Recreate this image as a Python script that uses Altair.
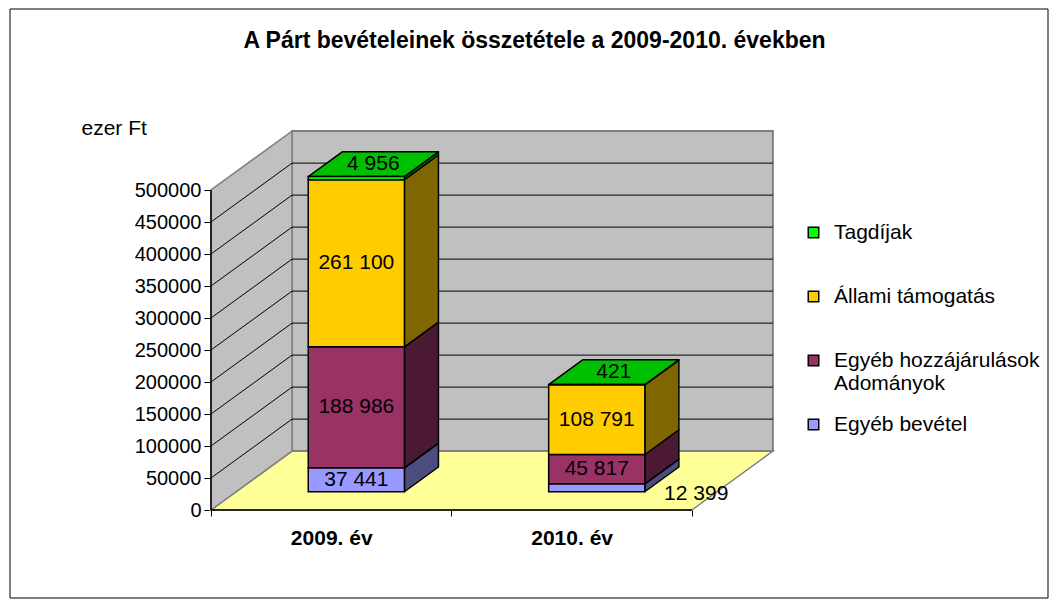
import altair as alt
import pandas as pd

# ---------------- data ----------------
YEARS = ["2009. év", "2010. év"]
SERIES = ["Tagdíjak", "Állami támogatás", "Egyéb hozzájárulások Adományok", "Egyéb bevétel"]
TAGDIJAK = [4956, 421]
ALLAMI_TAMOGATAS = [261100, 108791]
EGYEB_HOZZAJARULASOK = [188986, 45817]
EGYEB_BEVETEL = [37441, 12399]
Y_TICKS = [0, 50000, 100000, 150000, 200000, 250000, 300000, 350000, 400000, 450000, 500000]
TITLE = "A Párt bevételeinek összetétele a 2009-2010. években"
Y_UNIT = "ezer Ft"

# ---------------- style ----------------
COLORS = ["#00FF00", "#FFCC00", "#993366", "#9999FF"]
FONT = "Liberation Sans"
WALL = "#C0C0C0"
FLOOR = "#FFFF99"
EDGE = "#808080"

# pseudo-3D geometry (in scale units)
BAR_HALF = 0.2       # half bar width, in category bands
DEPTH_X = 0.337      # depth vector, x part
DEPTH_Y = 92000      # depth vector, y part
F0, F1 = 0.31, 0.73  # front / back depth of bars
WALL_TOP = Y_TICKS[-1]
X_MAX = len(YEARS) + 0.35
Y_MAX = 600000
PLOT_W, PLOT_H = 565, 384


def shade(hex_color, k):
    h = hex_color.lstrip("#")
    r, g, b = (int(h[i:i + 2], 16) for i in (0, 2, 4))
    return "#%02X%02X%02X" % (int(r * k), int(g * k), int(b * k))


def fmt(v):
    return f"{v:,}".replace(",", " ")


series_values = {
    SERIES[0]: TAGDIJAK,
    SERIES[1]: ALLAMI_TAMOGATAS,
    SERIES[2]: EGYEB_HOZZAJARULASOK,
    SERIES[3]: EGYEB_BEVETEL,
}
color_of = dict(zip(SERIES, COLORS))
stack_order = list(reversed(SERIES))  # bottom -> top

front, side, top, labels = [], [], [], []
for i, year in enumerate(YEARS):
    c = i + 0.5
    base = 0
    for s in stack_order:
        v = series_values[s][i]
        y0, y1 = base, base + v
        base = y1
        fx0, fx1 = c - BAR_HALF + F0 * DEPTH_X, c + BAR_HALF + F0 * DEPTH_X
        bx1 = c + BAR_HALF + F1 * DEPTH_X
        face = f"{i}-{s}"
        front.append(dict(series=s, fx0=fx0, fx1=fx1, fy0=y0 + F0 * DEPTH_Y, fy1=y1 + F0 * DEPTH_Y))
        side += [
            dict(face=face, x=fx1, lo=y0 + F0 * DEPTH_Y, hi=y1 + F0 * DEPTH_Y, shade=shade(color_of[s], 0.5)),
            dict(face=face, x=bx1, lo=y0 + F1 * DEPTH_Y, hi=y1 + F1 * DEPTH_Y, shade=shade(color_of[s], 0.5)),
        ]
        if s == stack_order[-1]:
            d = (F1 - F0) * DEPTH_X
            top += [
                dict(face=face, y=y1 + F0 * DEPTH_Y, xlo=fx0, xhi=fx1, shade=shade(color_of[s], 0.75)),
                dict(face=face, y=y1 + F1 * DEPTH_Y, xlo=fx0 + d, xhi=fx1 + d, shade=shade(color_of[s], 0.75)),
            ]
            labels.append(dict(label=fmt(v), mode="center",
                               lx=c + (F0 + F1) / 2 * DEPTH_X, ly=y1 + (F0 + F1) / 2 * DEPTH_Y))
        elif v < 20000:
            labels.append(dict(label=fmt(v), mode="outside",
                               lx=fx1 + 0.08, ly=y0 + F0 * DEPTH_Y))
        else:
            labels.append(dict(label=fmt(v), mode="center",
                               lx=c + F0 * DEPTH_X, ly=(y0 + y1) / 2 + F0 * DEPTH_Y))

front_df = pd.DataFrame(front)
side_df = pd.DataFrame(side)
top_df = pd.DataFrame(top)
lab_df = pd.DataFrame(labels)

n = len(YEARS)
floor_df = pd.DataFrame([
    dict(y=0, xlo=0, xhi=n),
    dict(y=DEPTH_Y, xlo=DEPTH_X, xhi=n + DEPTH_X),
])
lwall_df = pd.DataFrame([
    dict(x=0, lo=0, hi=WALL_TOP),
    dict(x=DEPTH_X, lo=DEPTH_Y, hi=WALL_TOP + DEPTH_Y),
])
bwall_df = pd.DataFrame([dict(x0=DEPTH_X, x1=n + DEPTH_X, y0=DEPTH_Y, y1=WALL_TOP + DEPTH_Y)])
grid_vals = Y_TICKS[1:-1]
bgrid_df = pd.DataFrame([dict(x0=DEPTH_X, x1=n + DEPTH_X, y=v + DEPTH_Y) for v in grid_vals])
diag_df = pd.DataFrame([dict(x0=0, x1=DEPTH_X, y0=v, y1=v + DEPTH_Y) for v in grid_vals])
xedge_df = pd.DataFrame([dict(x0=0, x1=n, y=0)])
yedge_df = pd.DataFrame([dict(x=0, y0=0, y1=WALL_TOP)])

XS = alt.Scale(domain=[0, X_MAX], nice=False, zero=False)
YS = alt.Scale(domain=[0, Y_MAX], nice=False, zero=False)

x_tick_vals = [k * 0.5 for k in range(2 * n + 1)]
label_expr = " : ".join(f"datum.value == {i + 0.5} ? '{y}'" for i, y in enumerate(YEARS)) + " : ''"

X_AXIS = alt.Axis(values=x_tick_vals, labelExpr=label_expr, title=None, grid=False, domain=False,
                  tickSize=6, tickColor="black",
                  tickOpacity={"condition": {"test": "datum.value % 1 != 0", "value": 0}, "value": 1},
                  labelFontSize=21, labelFontWeight="bold", labelColor="black", labelPadding=11,
                  labelFlush=False, labelOverlap=False, labelFont=FONT)
Y_AXIS = alt.Axis(values=Y_TICKS, format="d", title=Y_UNIT, titleAngle=0, titleAlign="left",
                  titleBaseline="middle", titleX=-130, titleY=2, titleFontSize=21,
                  titleFontWeight="normal", titleColor="black", titleFont=FONT,
                  grid=False, domain=False, tickSize=7, tickColor="black",
                  labelFontSize=20, labelColor="black", labelPadding=3, labelFont=FONT)


def X(f):
    return alt.X(f, type="quantitative", scale=XS, axis=X_AXIS)


def Y(f):
    return alt.Y(f, type="quantitative", scale=YS, axis=Y_AXIS, stack=None)


floor = alt.Chart(floor_df).mark_area(orient="horizontal", fill=FLOOR, stroke=EDGE, strokeWidth=1.5).encode(
    y=Y("y"), x=X("xlo"), x2="xhi")
lwall = alt.Chart(lwall_df).mark_area(fill=WALL, stroke=EDGE, strokeWidth=1.5).encode(
    x=X("x"), y=Y("lo"), y2="hi")
bwall = alt.Chart(bwall_df).mark_rect(fill=WALL, stroke=EDGE, strokeWidth=2).encode(
    x=X("x0"), x2="x1", y=Y("y0"), y2="y1")
bgrid = alt.Chart(bgrid_df).mark_rule(color="black", strokeWidth=1).encode(
    x=X("x0"), x2="x1", y=Y("y"))
diag = alt.Chart(diag_df).mark_rule(color="black", strokeWidth=1).encode(
    x=X("x0"), x2="x1", y=Y("y0"), y2="y1")
xedge = alt.Chart(xedge_df).mark_rule(color="black", strokeWidth=1.5).encode(
    x=X("x0"), x2="x1", y=Y("y"))
yedge = alt.Chart(yedge_df).mark_rule(color="black", strokeWidth=1.5).encode(
    x=X("x"), y=Y("y0"), y2="y1")

sides = alt.Chart(side_df).mark_area(stroke="black", strokeWidth=1.5, strokeJoin="round").encode(
    x=X("x"), y=Y("lo"), y2="hi", detail="face:N",
    fill=alt.Fill("shade:N", scale=None))
tops = alt.Chart(top_df).mark_area(orient="horizontal", stroke="black", strokeWidth=1.5,
                                    strokeJoin="round").encode(
    y=Y("y"), x=X("xlo"), x2="xhi", detail="face:N",
    fill=alt.Fill("shade:N", scale=None))
fronts = alt.Chart(front_df).mark_rect(stroke="black", strokeWidth=1.5, opacity=1).encode(
    x=X("fx0"), x2="fx1", y=Y("fy0"), y2="fy1",
    color=alt.Color("series:N", scale=alt.Scale(domain=SERIES, range=COLORS),
                    legend=alt.Legend(
                        title=None, orient="none", legendX=592, legendY=96, padding=0,
                        symbolType="square", symbolSize=110, symbolStrokeColor="black",
                        symbolStrokeWidth=1.5, symbolOpacity=1,
                        labelFontSize=21, labelFont=FONT, labelColor="black", labelOffset=10,
                        labelLimit=400, rowPadding=19,
                        labelExpr=(f"datum.label == '{SERIES[2]}' ? ['Egyéb hozzájárulások', 'Adományok']"
                                   " : [datum.label, ' ']"))))
lab_center = alt.Chart(lab_df).transform_filter("datum.mode == 'center'").mark_text(
    fontSize=21, font=FONT, color="black", align="center", baseline="middle").encode(
    x=X("lx"), y=Y("ly"), text="label:N")
lab_out = alt.Chart(lab_df).transform_filter("datum.mode == 'outside'").mark_text(
    fontSize=21, font=FONT, color="black", align="left", baseline="middle", dy=2).encode(
    x=X("lx"), y=Y("ly"), text="label:N")

frame = alt.Chart(pd.DataFrame({"a": [0]})).mark_rect(fill="transparent", stroke="black", strokeWidth=1).encode(
    x=alt.value(-201), x2=alt.value(837), y=alt.value(-117), y2=alt.value(472))

chart = alt.layer(
    frame, floor, bwall, lwall, bgrid, diag, xedge, yedge, sides, tops, fronts, lab_center, lab_out
).properties(
    width=PLOT_W, height=PLOT_H,
    padding={"left": 203, "top": 118, "right": 275, "bottom": 90},
    autosize=alt.AutoSizeParams(type="none"),
    title=alt.TitleParams(TITLE, fontSize=23, fontWeight="bold", font=FONT, color="black",
                          anchor="middle", frame="group", dx=41, offset=0, dy=62, baseline="alphabetic"),
).configure(font=FONT).configure_view(stroke=None)

chart.save("out.html", embed_options={"renderer": "svg", "actions": False})
